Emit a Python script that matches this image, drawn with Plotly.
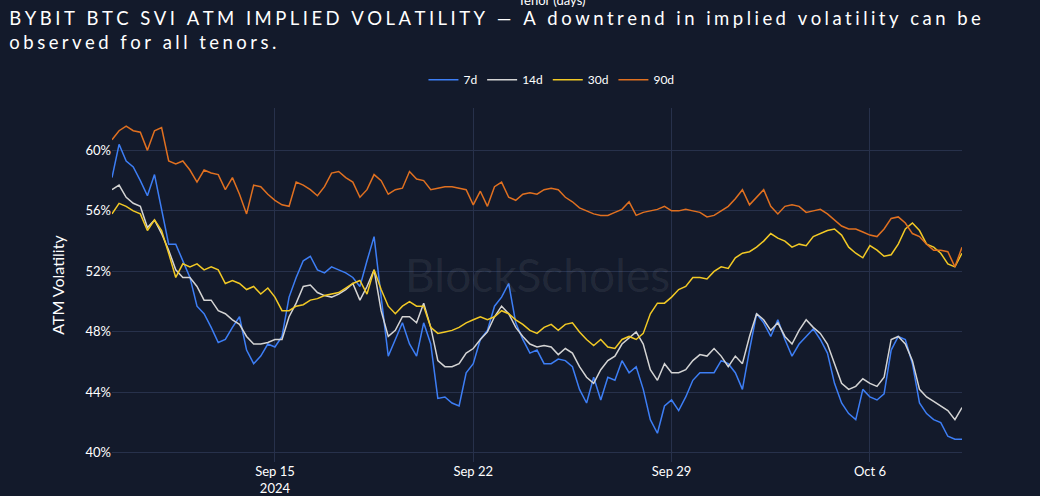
import pandas as pd
import plotly.graph_objects as go

# 6-hourly samples starting 2024-09-09 06:00
times = pd.date_range("2024-09-09 06:00", periods=121, freq="6h")

vol_7d = [58.2, 60.4, 59.3, 58.9, 58.0, 57.0, 58.4, 56.0, 53.8, 53.8, 52.7, 51.6, 49.7, 49.2, 48.3, 47.3,
          47.5, 48.3, 49.0, 46.8, 45.9, 46.4, 47.2, 47.0, 47.7, 50.3, 51.6, 52.7, 53.0, 52.1, 51.9, 52.3,
          52.1, 51.9, 51.6, 51.0, 52.7, 54.3, 50.3, 46.4, 47.5, 48.6, 47.2, 46.4, 48.6, 47.2, 43.6, 43.7,
          43.3, 43.1, 45.3, 45.9, 47.5, 48.1, 49.7, 50.3, 51.2, 48.6, 47.5, 46.6, 46.8, 45.9, 45.9, 46.2,
          46.1, 45.7, 44.2, 43.3, 45.0, 43.5, 45.0, 44.8, 46.1, 45.3, 45.7, 44.2, 42.2, 41.3, 43.1, 43.5,
          42.8, 43.7, 44.8, 45.3, 45.3, 45.3, 46.1, 45.9, 45.3, 44.2, 46.8, 49.2, 48.6, 47.7, 48.8, 47.5,
          46.4, 47.2, 47.7, 48.2, 47.5, 46.6, 44.6, 43.3, 42.6, 42.2, 44.2, 43.7, 43.5, 43.9, 46.8, 47.7,
          47.5, 45.9, 43.3, 42.6, 42.2, 42.0, 41.1, 40.9, 40.9]

vol_14d = [57.4, 57.7, 56.9, 56.5, 56.3, 54.9, 55.4, 54.5, 53.4, 52.1, 51.6, 51.6, 51.0, 50.1, 50.1, 49.4,
           49.2, 48.8, 48.5, 47.7, 47.2, 47.2, 47.3, 47.5, 47.5, 49.0, 49.9, 51.0, 51.1, 50.6, 50.4, 50.3,
           50.5, 50.8, 51.2, 50.1, 51.0, 52.1, 49.4, 47.7, 48.1, 49.0, 49.0, 48.6, 49.9, 48.3, 46.1, 45.7,
           45.7, 45.9, 46.6, 46.9, 47.5, 48.0, 49.0, 49.7, 49.2, 48.3, 47.7, 47.2, 47.0, 47.1, 47.0, 46.5,
           46.9, 46.6, 45.7, 45.0, 44.6, 45.5, 46.1, 46.4, 47.2, 47.6, 48.0, 47.2, 45.5, 44.8, 45.9, 45.3,
           45.3, 45.5, 46.1, 46.5, 46.4, 46.9, 46.4, 45.7, 46.4, 45.9, 47.7, 49.2, 48.8, 48.1, 48.6, 47.7,
           47.2, 48.1, 48.8, 48.3, 47.9, 47.2, 45.9, 44.6, 44.2, 44.4, 44.9, 44.6, 44.4, 45.0, 47.5, 47.7,
           47.2, 46.1, 44.2, 43.7, 43.4, 43.1, 42.8, 42.2, 43.0]

vol_30d = [55.8, 56.5, 56.3, 56.0, 55.8, 54.7, 55.4, 54.7, 53.2, 51.6, 52.5, 52.3, 52.5, 52.1, 52.3, 52.1,
           51.2, 51.4, 51.2, 50.8, 51.0, 50.5, 50.9, 50.3, 49.4, 49.4, 49.7, 49.8, 50.1, 50.2, 50.4, 50.5,
           50.6, 50.9, 51.2, 51.4, 50.5, 52.1, 50.8, 49.7, 49.2, 49.7, 50.0, 49.7, 49.7, 48.3, 47.9, 48.0,
           48.1, 48.3, 48.6, 48.8, 49.0, 48.8, 49.0, 49.4, 49.2, 48.8, 48.5, 48.1, 47.9, 48.3, 48.5, 48.1,
           48.5, 48.6, 48.0, 47.5, 47.1, 47.5, 47.0, 46.9, 47.5, 47.7, 47.5, 47.9, 49.2, 49.9, 49.9, 50.3,
           50.8, 51.0, 51.6, 51.6, 51.5, 52.0, 52.3, 52.2, 52.9, 53.2, 53.3, 53.6, 54.0, 54.5, 54.2, 54.0,
           53.6, 53.8, 53.7, 54.3, 54.5, 54.7, 54.8, 54.4, 53.6, 53.2, 52.9, 53.7, 53.4, 53.0, 53.1, 53.8,
           54.8, 55.2, 54.7, 53.8, 53.6, 53.2, 52.5, 52.3, 53.2]

vol_90d = [60.7, 61.3, 61.6, 61.3, 61.2, 60.0, 61.3, 61.5, 59.3, 59.1, 59.3, 58.7, 57.9, 58.7, 58.5, 58.4,
           57.4, 58.2, 57.1, 55.8, 57.7, 57.6, 57.1, 56.7, 56.4, 56.3, 57.9, 57.7, 57.4, 57.0, 57.6, 58.5,
           58.6, 58.2, 57.9, 56.9, 57.4, 58.4, 58.0, 57.1, 57.4, 57.5, 58.6, 58.1, 58.0, 57.4, 57.5, 57.6,
           57.6, 57.5, 57.4, 56.4, 57.3, 56.3, 57.6, 57.9, 56.9, 56.7, 57.1, 57.2, 57.1, 57.4, 57.5, 57.4,
           56.9, 56.6, 56.2, 56.0, 55.8, 55.7, 55.7, 55.9, 56.1, 56.6, 55.7, 55.9, 56.0, 56.1, 56.3, 56.0,
           56.0, 56.1, 56.0, 55.9, 55.6, 55.7, 56.0, 56.3, 56.8, 57.4, 56.4, 56.9, 57.4, 56.3, 55.8, 56.3,
           56.4, 56.3, 55.9, 56.0, 56.1, 55.8, 55.4, 55.0, 54.8, 54.8, 54.6, 54.4, 54.3, 54.8, 55.5, 55.6,
           55.2, 54.5, 54.3, 53.8, 53.4, 53.4, 53.3, 52.3, 53.6]

series = [("7d", vol_7d, "#3d7ef5"), ("14d", vol_14d, "#d4d4d4"),
          ("30d", vol_30d, "#f2c925"), ("90d", vol_90d, "#e07020")]

fig = go.Figure()
for name, vals, col in series:
    fig.add_trace(go.Scatter(x=times, y=[v / 100 for v in vals], name=name, mode="lines",
                             line=dict(color=col, width=1.5)))


def spaced(s):
    # fake letter-spacing with thin + hair spaces
    return "\u2009\u200a".join(s)


title_txt = (spaced("BYBIT BTC SVI ATM IMPLIED VOLATILITY — A downtrend in implied volatility can be")
             + "<br>" + spaced("observed for all tenors."))

bg = "#131a2b"
grid = "#27314b"
fig.update_layout(
    width=1040, height=496,
    paper_bgcolor=bg, plot_bgcolor=bg,
    margin=dict(l=112, r=78, t=108, b=34, autoexpand=False),
    font=dict(family="Lato", color="white", size=13),
    title=dict(text=title_txt, x=0.009, xanchor="left", y=0.95, yanchor="top",
               font=dict(family="Lato", size=18.5, color="white")),
    legend=dict(orientation="h", x=0.517, xanchor="center", y=1.08, yanchor="middle",
                font=dict(size=12), bgcolor="rgba(0,0,0,0)"),
    showlegend=True,
)
fig.add_annotation(text="Tenor (days)", xref="paper", yref="paper", x=0.517, y=1.305,
                   yanchor="middle", showarrow=False, font=dict(size=13, color="white"))
fig.add_annotation(text="BlockScholes", xref="paper", yref="paper", x=0.5, y=0.53,
                   showarrow=False, font=dict(size=46, color="rgba(255,255,255,0.07)"))
fig.update_xaxes(showgrid=True, gridcolor=grid, dtick=7 * 24 * 3600 * 1000, automargin=False,
                 tick0="2024-09-15", ticks="", zeroline=False, showline=False)
fig.update_yaxes(showgrid=True, gridcolor=grid, range=[0.394, 0.628], tickformat=".0%",
                 dtick=0.04, tick0=0.40, title=dict(text="ATM Volatility", standoff=16),
                 zeroline=False, ticks="", automargin=False)

fig.write_html("out.html", config={"displayModeBar": False},
               post_script="document.body.style.margin='0';")
